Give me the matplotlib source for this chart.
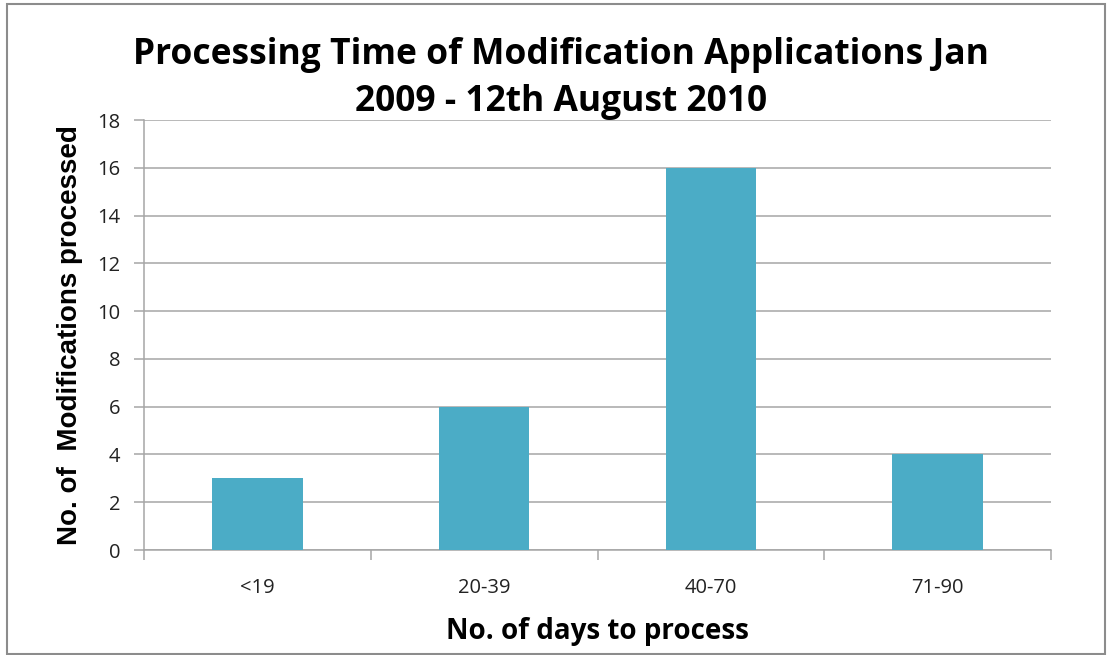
import matplotlib.pyplot as plt
from matplotlib.patches import Rectangle

# data
categories = ["<19", "20-39", "40-70", "71-90"]
counts = [3, 6, 16, 4]
y_ticks = [0, 2, 4, 6, 8, 10, 12, 14, 16, 18]

bar_color = "#4BACC6"
grid_color = "#A6A6A6"

fig = plt.figure(figsize=(11.08, 6.55), dpi=100)
ax = fig.add_axes([144 / 1108, 1 - 550 / 655, (1051 - 144) / 1108, (550 - 120) / 655])

xs = list(range(len(categories)))
ax.bar(xs, counts, width=0.4, color=bar_color, zorder=3)

ax.set_xlim(-0.5, len(categories) - 0.5)
ax.set_ylim(0, 18)
ax.set_yticks(y_ticks)
ax.set_yticklabels([str(t) for t in y_ticks], fontsize=14.5, family="Open Sans", color="#222222")
ax.yaxis.grid(True, color=grid_color, linewidth=1.1, zorder=0)

# category labels centred, tick marks on the boundaries
ax.set_xticks(xs)
ax.set_xticklabels(categories, fontsize=14.5, family="Open Sans", color="#222222")
ax.tick_params(axis="x", length=0, pad=20)
ax.set_xticks([i - 0.5 for i in range(len(categories) + 1)], minor=True)
ax.tick_params(axis="x", which="minor", length=7, color=grid_color, width=1.1)
ax.tick_params(axis="y", length=7, color=grid_color, width=1.1, pad=10)

for s in ["top", "right"]:
    ax.spines[s].set_visible(False)
for s in ["left", "bottom"]:
    ax.spines[s].set_color(grid_color)
    ax.spines[s].set_linewidth(1.1)

ax.set_ylabel("No. of  Modifications processed", fontsize=20, fontweight="bold",
              family="Liberation Sans", labelpad=10)
ax.set_xlabel("No. of days to process", fontsize=20, fontweight="bold", family="Open Sans",
              labelpad=14)

fig.text(0.506, 1 - 120 / 655, "Processing Time of Modification Applications Jan\n2009 - 12th August 2010",
         ha="center", va="bottom", fontsize=25.5, fontweight="bold", family="Open Sans",
         linespacing=1.4)

# outer chart border
fig.patches.append(Rectangle((7 / 1108, 1 - 654 / 655), 1098 / 1108, 650 / 655,
                             transform=fig.transFigure, fill=False,
                             edgecolor="#8C8C8C", linewidth=1.5))

fig.savefig("out.png", dpi=100)
